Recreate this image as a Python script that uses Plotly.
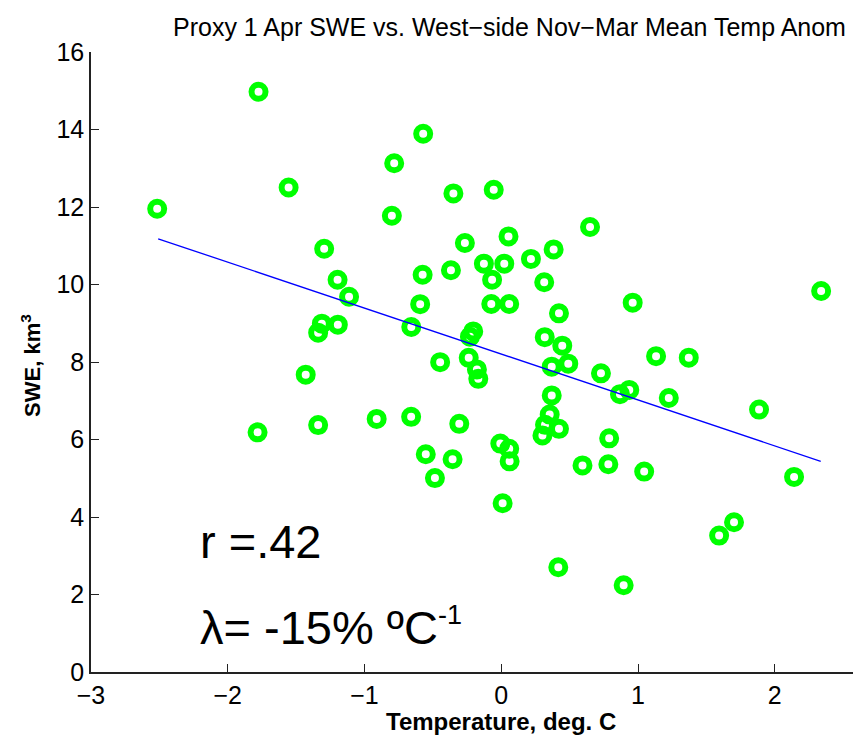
import plotly.graph_objects as go

# Temperature anomaly (deg C) and proxy 1 Apr SWE (km^3)
temp = [-2.516, -1.775, -1.555, -0.783, -0.571, -0.800, -0.350, -0.055, -1.295, -1.197,
        -1.113, -1.312, -1.339, -1.195, -1.430, -1.782, -1.339, -0.911, -0.575, -0.368,
        -0.593, -0.658, -0.266, 0.053, 0.217, 0.383, -0.127, 0.022, -0.067, 0.314,
        -0.073, 0.058, 0.422, 0.649, 0.961, 2.339, -0.205, -0.229, 0.318, 0.446,
        0.490, 0.369, -0.447, -0.238, -0.178, -0.168, 1.132, 1.371, 0.729, 0.868,
        0.936, 1.225, 1.885, 0.369, 0.354, 0.320, 0.422, 0.301, -0.659, -0.307,
        -0.007, 0.058, 0.061, -0.552, -0.356, -0.485, 0.594, 0.783, 0.789, 1.045,
        2.141, 0.010, 1.702, 1.593, 0.417, 0.895]
swe = [11.955, 14.973, 12.504, 13.129, 13.890, 11.775, 12.350, 12.445, 10.923, 10.124,
       9.685, 8.989, 8.757, 8.963, 7.673, 6.185, 6.371, 6.531, 10.253, 10.369,
       9.492, 8.904, 11.070, 11.241, 10.660, 10.905, 10.537, 10.537, 10.124, 10.059,
       9.497, 9.497, 9.255, 11.483, 9.531, 9.832, 8.790, 8.654, 8.641, 8.421,
       7.957, 7.880, 7.996, 8.107, 7.808, 7.565, 8.151, 8.112, 7.707, 7.170,
       7.279, 7.072, 6.771, 7.137, 6.642, 6.379, 6.275, 6.105, 6.585, 6.404,
       5.894, 5.760, 5.437, 5.618, 5.489, 5.004, 5.331, 5.362, 6.030, 5.171,
       5.035, 4.354, 3.864, 3.521, 2.703, 2.239]

# Regression line end points
fit_x = [-2.509, 2.336]
fit_y = [11.18, 5.437]

x_ticks = [-3, -2, -1, 0, 1, 2]
y_ticks = [0, 2, 4, 6, 8, 10, 12, 14, 16]

title_text = "Proxy 1 Apr SWE vs. West\u2212side Nov\u2212Mar Mean Temp Anom"
x_title = "<b>Temperature, deg. C</b>"
y_title = "<b>SWE, km<sup>3</sup></b>"
r_text = "r =.42"
lam_text = "\u03bb= -15% \u00baC<sup><span style='font-size:27px'>-1</span></sup>"

FONT = "Liberation Sans, Arial, Helvetica, sans-serif"

fig = go.Figure()
fig.add_trace(go.Scatter(
    x=temp, y=swe, mode="markers",
    marker=dict(symbol="circle-open", size=14, color="#00ff00",
                line=dict(width=6, color="#00ff00")),
    showlegend=False, hoverinfo="skip"))
fig.add_trace(go.Scatter(
    x=fit_x, y=fit_y, mode="lines",
    line=dict(color="#0000ff", width=1.3),
    showlegend=False, hoverinfo="skip"))

axis_common = dict(ticks="inside", ticklen=8, tickwidth=1.3, tickcolor="#222",
                   showline=True, linecolor="#222", linewidth=1.5, showgrid=False,
                   zeroline=False, mirror=False, tickfont=dict(size=25))

fig.update_layout(
    width=853, height=744,
    margin=dict(l=91, r=0, t=52, b=72),
    paper_bgcolor="white", plot_bgcolor="white",
    font=dict(family=FONT, color="black", size=24),
    showlegend=False,
    xaxis=dict(range=[-3, 2.572], tickvals=x_ticks, **axis_common),
    yaxis=dict(range=[0, 16], tickvals=y_ticks, **axis_common),
    annotations=[
        dict(text=title_text, xref="paper", yref="paper", x=1, y=1,
             xanchor="right", yanchor="bottom", yshift=9, xshift=-5,
             showarrow=False, font=dict(size=25)),
        dict(text=x_title, xref="x", yref="paper", x=0.0, y=0,
             xanchor="center", yanchor="middle", yshift=-49,
             showarrow=False, font=dict(size=24)),
        dict(text=y_title, xref="paper", yref="y", x=0, y=7.9,
             xanchor="center", yanchor="middle", xshift=-60, textangle=-90,
             showarrow=False, font=dict(size=22)),
        dict(text=r_text, xref="x", yref="y", x=-2.22, y=3.37,
             xanchor="left", yanchor="middle", showarrow=False,
             font=dict(size=47)),
        dict(text=lam_text, xref="x", yref="y", x=-2.22, y=1.15,
             xanchor="left", yanchor="middle", showarrow=False,
             font=dict(size=47)),
    ],
)

fig.write_html("out.html")
